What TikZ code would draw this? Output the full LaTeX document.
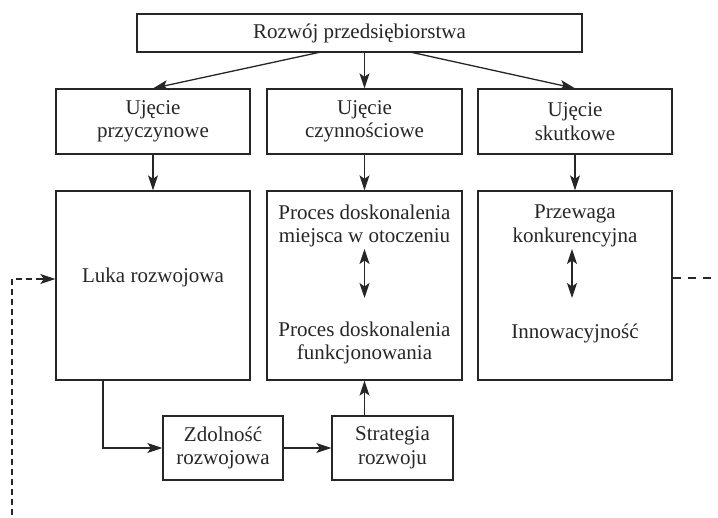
\documentclass[tikz,border=0pt]{standalone}
\usepackage{fontspec}
\setmainfont{Liberation Serif}
\usetikzlibrary{arrows.meta}
\definecolor{ink}{HTML}{262626}
\tikzset{
  x=1pt, y=1pt,
  tip/.tip={Stealth[length=15pt,width=10pt,inset=3.5pt]},
  box/.style={draw=ink, line width=1.3pt, inner sep=0pt, anchor=center},
  txt/.style={align=center, inner sep=0pt, text=ink,
    font=\fontsize{21}{23.5}\selectfont},
  conn/.style={draw=ink, line width=1.3pt, -tip},
  dconn/.style={draw=ink, line width=1.3pt, tip-tip},
  dashline/.style={draw=ink, line width=1.3pt, dash pattern=on 6pt off 4pt},
}
\begin{document}
\begin{tikzpicture}
\useasboundingbox (0,0) rectangle (718,-518);

% top box
\node[box, minimum width=445pt, minimum height=38pt] (top) at (359.5,-33) {};
\node[txt] at (top) {Rozwój przedsiębiorstwa};

% three approaches
\node[box, minimum width=194pt, minimum height=65pt] (u1) at (153,-121.5) {};
\node[box, minimum width=195pt, minimum height=65pt] (u2) at (364.5,-121.5) {};
\node[box, minimum width=194pt, minimum height=65pt] (u3) at (575,-121.5) {};
\node[txt] at (u1) {Ujęcie\\przyczynowe};
\node[txt] at (u2) {Ujęcie\\czynnościowe};
\node[txt] at (u3) {Ujęcie\\skutkowe};

% large boxes
\node[box, minimum width=194pt, minimum height=189pt] (b1) at (153,-285.5) {};
\node[box, minimum width=195pt, minimum height=189pt] (b2) at (364.5,-285.5) {};
\node[box, minimum width=194pt, minimum height=189pt] (b3) at (575,-285.5) {};
\node[txt] (t1) at (153,-277) {Luka rozwojowa};
\node[txt] (t21) at (364.5,-226) {Proces doskonalenia\\miejsca w otoczeniu};
\node[txt] (t22) at (364.5,-343) {Proces doskonalenia\\funkcjonowania};
\node[txt] (t31) at (575,-226) {Przewaga\\konkurencyjna};
\node[txt] (t32) at (575,-333) {Innowacyjność};

% bottom boxes
\node[box, minimum width=120pt, minimum height=64pt] (z) at (223,-448) {};
\node[box, minimum width=121pt, minimum height=64pt] (s) at (392.5,-448) {};
\node[txt] at (z) {Zdolność\\rozwojowa};
\node[txt] at (s) {Strategia\\rozwoju};

% connectors
\coordinate (tl) at (321,-52);
\coordinate (tr) at (410,-52);
\draw[conn] (tl) -- (u1.north);
\draw[conn] (top.south -| u2.north) -- (u2.north);
\draw[conn] (tr) -- (u3.north);
\draw[conn] (u1.south) -- (b1.north);
\draw[conn] (u2.south) -- (b2.north);
\draw[conn] (u3.south) -- (b3.north);

\coordinate (t21a) at (364.5,-249);
\coordinate (t22a) at (364.5,-298);
\draw[dconn] (t21a) -- (t22a);
\coordinate (t31a) at (572,-249);
\coordinate (t32a) at (572,-298);
\draw[dconn] (t31a) -- (t32a);

\coordinate (bl) at (103,-380);
\draw[conn] (bl) |- (z.west);
\draw[conn] (z.east) -- (s.west);
\draw[conn] (s.north -| b2.south) -- (b2.south);

% feedback loops
\coordinate (d0) at (12,-515);
\coordinate (d1) at (12,-279);
\coordinate (b1in) at (b1.west |- d1);
\draw[dashline] (d0) -- (d1) -- (b1in);
\draw[conn] ([xshift=-14pt]b1in) -- (b1in);
\coordinate (e0) at (b3.east |- 0,-278);
\coordinate (e1) at (712,-278);
\draw[draw=ink, line width=1.3pt, dash pattern=on 8pt off 7pt] (e0) -- (e1);
\end{tikzpicture}
\end{document}
